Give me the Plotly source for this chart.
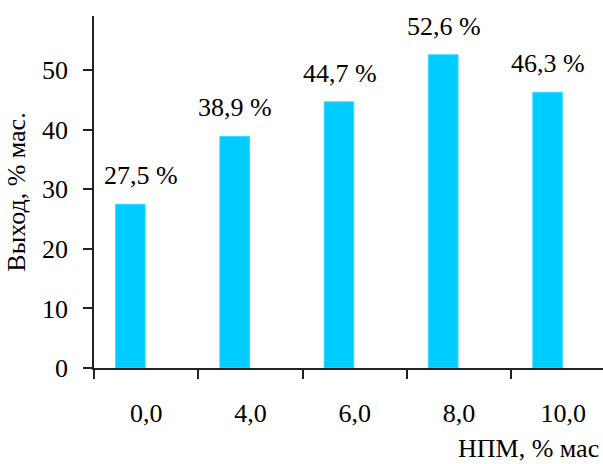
import plotly.graph_objects as go

# НПМ content, % mass, and product yield, % mass
categories = ["0,0", "4,0", "6,0", "8,0", "10,0"]
yield_values = [27.5, 38.9, 44.7, 52.6, 46.3]
label_shift_px = [10, 0, 0, 0, 0]

y_tick_vals = [0, 10, 20, 30, 40, 50]

FONT = "'Times New Roman', 'Liberation Serif', serif"
FS = 26
AXIS_COLOR = "#222222"

fig = go.Figure(
    go.Bar(
        x=categories,
        y=yield_values,
        width=0.283,
        offset=-0.293,
        marker=dict(color="#00CCFF", line=dict(color="#33D6FF", width=1)),
        hoverinfo="skip",
    )
)

# value labels above each bar
for cat, val, dx in zip(categories, yield_values, label_shift_px):
    fig.add_annotation(
        x=cat, y=val, text=f"{val:.1f}".replace(".", ",") + " %",
        showarrow=False, xref="x", yref="y",
        xanchor="center", yanchor="bottom",
        xshift=-15 + dx, yshift=12,
        font=dict(family=FONT, size=FS, color="black"),
    )

fig.add_annotation(
    text="НПМ, % мас", xref="paper", yref="paper",
    x=1.0, y=0, xanchor="right", yanchor="middle",
    xshift=-3, yshift=-80, showarrow=False, borderpad=0,
    font=dict(family=FONT, size=FS, color="black"),
)

fig.update_layout(
    width=603, height=464,
    margin=dict(l=94, r=0, t=16, b=96),
    paper_bgcolor="white", plot_bgcolor="white",
    showlegend=False,
    font=dict(family=FONT, size=FS, color="black"),
    xaxis=dict(
        type="category",
        range=[-0.5, 4.38],
        tickson="boundaries",
        ticks="outside", ticklen=9, tickwidth=1.5, tickcolor=AXIS_COLOR,
        showline=True, linecolor=AXIS_COLOR, linewidth=1.5,
        showgrid=False, zeroline=False,
        ticklabelstandoff=21,
        tickfont=dict(family=FONT, size=FS, color="black"),
    ),
    yaxis=dict(
        range=[0, 59.12],
        tickvals=y_tick_vals,
        ticks="outside", ticklen=9, tickwidth=1.5, tickcolor=AXIS_COLOR,
        showline=True, linecolor=AXIS_COLOR, linewidth=1.5,
        showgrid=False, zeroline=False,
        ticklabelstandoff=10,
        tickfont=dict(family=FONT, size=FS, color="black"),
        title=dict(text="Выход, % мас.", standoff=9,
                   font=dict(family=FONT, size=FS, color="black")),
    ),
)

fig.write_html("out.html")
